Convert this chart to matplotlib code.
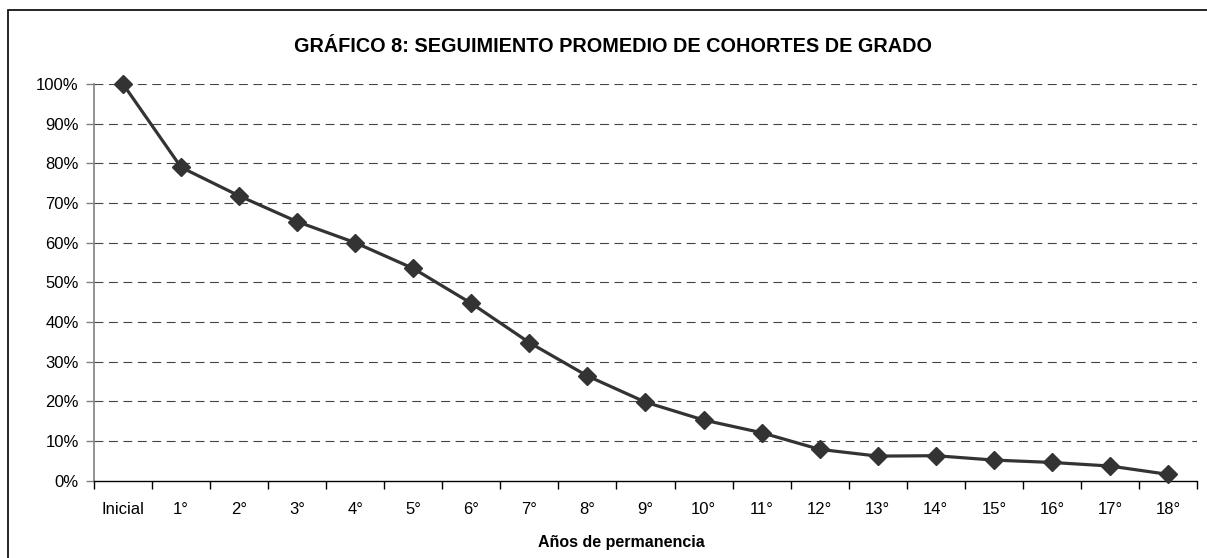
import numpy as np
import matplotlib
matplotlib.use("Agg")
import matplotlib.pyplot as plt
from matplotlib.patches import Rectangle
from matplotlib.ticker import FixedLocator, PercentFormatter

# datos
categorias = ["Inicial", "1°", "2°", "3°", "4°", "5°", "6°", "7°", "8°", "9°",
              "10°", "11°", "12°", "13°", "14°", "15°", "16°", "17°", "18°"]
porcentaje = [100.0, 79.0, 71.8, 65.3, 60.0, 53.5, 44.7, 34.8, 26.4, 19.8,
              15.3, 12.1, 7.9, 6.2, 6.3, 5.2, 4.6, 3.7, 1.6]
yticks = [0, 10, 20, 30, 40, 50, 60, 70, 80, 90, 100]

titulo = "GRÁFICO 8: SEGUIMIENTO PROMEDIO DE COHORTES DE GRADO"
xlabel = "Años de permanencia"

plt.rcParams['font.family'] = ['Liberation Sans', 'DejaVu Sans']

fig = plt.figure(figsize=(12.07, 5.58), dpi=100)

# marco exterior (se sale de la imagen por abajo y a la derecha)
fig.patches.append(Rectangle((8/1207, -0.1), 1.2, 1 - 10/558 + 0.1,
                             transform=fig.transFigure, fill=False,
                             edgecolor='black', lw=1.2))

ax = fig.add_axes([94/1207, 1 - 480.7/558, (1197 - 94)/1207, (480.7 - 84)/558])

x = np.arange(len(categorias))
ax.plot(x, porcentaje, color='#333333', lw=2.3, marker='D', ms=9,
        markeredgecolor='#333333', markerfacecolor='#333333', zorder=3,
        clip_on=False)

ax.set_xlim(-0.5, len(categorias) - 0.5)
ax.set_ylim(0, 100)

ax.set_yticks(yticks)
ax.yaxis.set_major_formatter(PercentFormatter(decimals=0))
ax.set_xticks(x)
ax.set_xticklabels(categorias)
ax.xaxis.set_minor_locator(FixedLocator(np.arange(-0.5, len(categorias), 1.0)))

ax.tick_params(axis='x', which='major', length=0, pad=15.5, labelsize=12)
ax.tick_params(axis='x', which='minor', length=6, width=1, color='black')
ax.tick_params(axis='y', which='major', length=6, width=1, color='#808080',
               pad=5, labelsize=12)

for y in yticks[1:]:
    ax.axhline(y, color='#444444', lw=0.8, ls=(0, (8, 5)), zorder=1)

ax.spines['top'].set_visible(False)
ax.spines['right'].set_visible(False)
ax.spines['left'].set_color('#808080')
ax.spines['left'].set_linewidth(1.2)
ax.spines['bottom'].set_color('black')
ax.spines['bottom'].set_linewidth(1)

fig.text(613/1207, 1 - 47/558, titulo, ha='center', va='center',
         fontsize=14.3, fontweight='bold')
fig.text(621/1207, 1 - 543/558, xlabel, ha='center', va='center',
         fontsize=11.5, fontweight='bold')

fig.savefig("out.png", dpi=100)
